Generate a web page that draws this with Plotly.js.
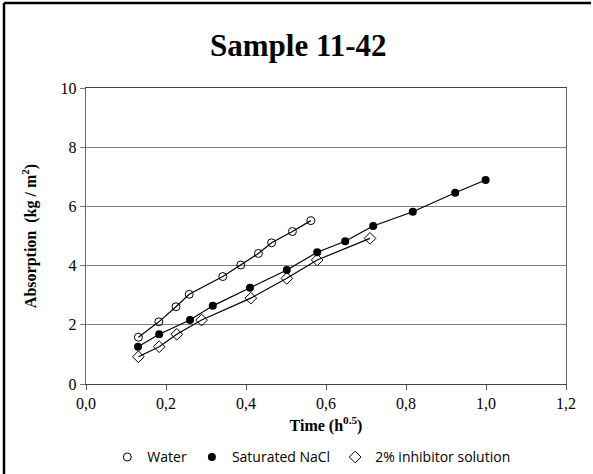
<!DOCTYPE html>
<html>
<head>
<meta charset="utf-8">
<script src="https://cdn.plot.ly/plotly-3.0.1.min.js"></script>
<style>
html,body{margin:0;padding:0;background:#fff;}
#chart{width:593px;height:474px;}
</style>
</head>
<body>
<div id="chart"></div>
<script>
// Data
const waterX = [0.131, 0.182, 0.225, 0.258, 0.342, 0.387, 0.431, 0.464, 0.516, 0.562];
const waterY = [1.58, 2.10, 2.61, 3.03, 3.63, 4.02, 4.41, 4.77, 5.15, 5.52];

const naclX = [0.130, 0.183, 0.260, 0.317, 0.410, 0.502, 0.578, 0.648, 0.718, 0.817, 0.923, 0.999];
const naclY = [1.26, 1.68, 2.16, 2.64, 3.25, 3.85, 4.45, 4.82, 5.34, 5.82, 6.46, 6.89];

const inhibX = [0.131, 0.183, 0.227, 0.289, 0.412, 0.502, 0.578, 0.710];
const inhibY = [0.92, 1.26, 1.68, 2.16, 2.90, 3.57, 4.19, 4.92];

const seriesNames = ["Water", "Saturated NaCl", "2% inhibitor solution"];
const xTickVals = [0, 0.2, 0.4, 0.6, 0.8, 1.0, 1.2];
const yTickVals = [0, 2, 4, 6, 8, 10];

const serif = "Liberation Serif, Times New Roman, serif";
const sans = "Open Sans, Liberation Sans, sans-serif";

const lineStyle = {color: "#000", width: 1.2};

const traces = [
  {x: waterX, y: waterY, mode: "lines", line: lineStyle, showlegend: false, hoverinfo: "skip"},
  {x: naclX, y: naclY, mode: "lines", line: lineStyle, showlegend: false, hoverinfo: "skip"},
  {x: inhibX, y: inhibY, mode: "lines", line: lineStyle, showlegend: false, hoverinfo: "skip"},
  {x: waterX, y: waterY, mode: "markers", name: seriesNames[0],
   marker: {symbol: "circle-open", size: 8, color: "#000", line: {width: 1, color: "#000"}}},
  {x: naclX, y: naclY, mode: "markers", name: seriesNames[1],
   marker: {symbol: "circle", size: 8, color: "#000"}},
  {x: inhibX, y: inhibY, mode: "markers", name: seriesNames[2],
   marker: {symbol: "diamond-open", size: 9, color: "#000", line: {width: 1, color: "#000"}}}
];

const layout = {
  width: 593, height: 474,
  margin: {l: 86, r: 27, t: 88, b: 90},
  paper_bgcolor: "#fff", plot_bgcolor: "#fff",
  separators: ",.",
  title: {
    text: "<b>Sample 11-42</b>",
    font: {family: serif, size: 31, color: "#000"},
    xref: "container", x: 0.503, xanchor: "center",
    yref: "container", y: 0.905, yanchor: "middle"
  },
  xaxis: {
    range: [0, 1.2], tickvals: xTickVals, tickformat: ".1f",
    showgrid: false, zeroline: false,
    showline: true, linecolor: "#444", linewidth: 1.2, mirror: true,
    ticks: "outside", ticklen: 5, tickcolor: "#555",
    tickfont: {family: serif, size: 16, color: "#000"},
    title: {text: "<b>Time (h<sup>0.5</sup>)</b>", font: {family: serif, size: 16, color: "#000"}, standoff: 8}
  },
  yaxis: {
    range: [0, 10], tickvals: yTickVals,
    showgrid: true, gridcolor: "#808080", gridwidth: 1.2, zeroline: false,
    showline: true, linecolor: "#666", linewidth: 1.2, mirror: true,
    ticks: "outside", ticklen: 5, tickcolor: "#777",
    tickfont: {family: serif, size: 16, color: "#000"},
    title: {text: "<b>Absorption  (kg / m<sup>2</sup>)</b>", font: {family: serif, size: 16, color: "#000"}, standoff: 20}
  },
  legend: {
    orientation: "h", xref: "container", x: 0.525, xanchor: "center",
    yref: "container", y: 0.035, yanchor: "middle",
    font: {family: sans, size: 14, color: "#000"},
    itemwidth: 30, tracegroupgap: 0
  },
  shapes: [
    {type: "line", xref: "paper", yref: "paper", x0: (4 - 86) / 480, x1: (4 - 86) / 480, y0: -90 / 296, y1: (384 - 3) / 296,
     line: {color: "#000", width: 2.5}},
    {type: "line", xref: "paper", yref: "paper", x0: (4 - 86) / 480, x1: (591 - 86) / 480, y0: (384 - 3) / 296, y1: (384 - 3) / 296,
     line: {color: "#000", width: 2.5}}
  ]
};

Plotly.newPlot("chart", traces, layout, {displayModeBar: false, staticPlot: true});
</script>
</body>
</html>
